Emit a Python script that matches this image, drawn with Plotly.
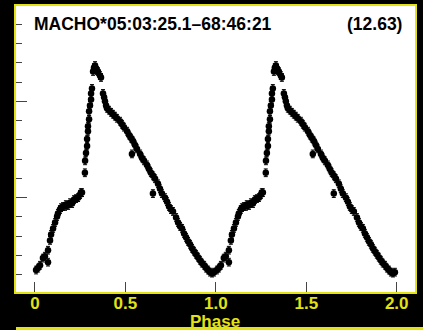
import plotly.graph_objects as go

# Phase-folded light curve of MACHO*05:03:25.1-68:46:21 (period 12.63 d)
phase = [0.006, 0.017, 0.028, 0.044, 0.055, 0.072, 0.083, 0.089, 0.100, 0.111,
         0.122, 0.127, 0.138, 0.144, 0.155, 0.166, 0.171, 0.183, 0.194, 0.205,
         0.216, 0.227, 0.238, 0.249, 0.254, 0.260,
         0.277, 0.282, 0.288, 0.288, 0.293, 0.293, 0.299, 0.299, 0.304, 0.310,
         0.310, 0.315, 0.321, 0.326, 0.332, 0.337, 0.343, 0.348, 0.359, 0.365,
         0.376, 0.382, 0.387, 0.393, 0.398, 0.409, 0.420, 0.431, 0.442, 0.453,
         0.470, 0.481, 0.492, 0.509, 0.520, 0.531, 0.542, 0.553, 0.564, 0.581,
         0.592, 0.603, 0.619, 0.630, 0.641, 0.653, 0.664, 0.680, 0.691, 0.702,
         0.719, 0.730, 0.741, 0.752, 0.763, 0.780, 0.791, 0.802, 0.813, 0.824,
         0.835, 0.846, 0.857, 0.868, 0.879, 0.890, 0.901, 0.912, 0.923, 0.935,
         0.946, 0.957, 0.968, 0.979, 0.990,
         0.072, 0.276, 0.536, 0.652]
mag = [15.876, 15.866, 15.851, 15.814, 15.804, 15.773, 15.722, 15.691, 15.660, 15.629,
       15.598, 15.582, 15.562, 15.552, 15.546, 15.546, 15.536, 15.541, 15.526, 15.531,
       15.510, 15.505, 15.500, 15.485, 15.474, 15.474,
       15.309, 15.268, 15.232, 15.196, 15.155, 15.129, 15.093, 15.052, 15.021, 14.990,
       14.959, 14.933, 14.845, 14.825, 14.814, 14.830, 14.840, 14.845, 14.866, 14.876,
       14.959, 14.979, 15.000, 15.021, 15.036, 15.046, 15.057, 15.067, 15.077, 15.088,
       15.103, 15.119, 15.134, 15.155, 15.175, 15.191, 15.206, 15.227, 15.247, 15.273,
       15.294, 15.309, 15.330, 15.351, 15.371, 15.387, 15.402, 15.428, 15.454, 15.479,
       15.500, 15.521, 15.546, 15.562, 15.572, 15.603, 15.629, 15.649, 15.660, 15.686,
       15.706, 15.727, 15.742, 15.763, 15.778, 15.794, 15.809, 15.825, 15.840, 15.851,
       15.866, 15.876, 15.887, 15.892, 15.887,
       15.835, 15.371, 15.273, 15.479]
MAG_ERR = 0.02

star_name = "MACHO*05:03:25.1–68:46:21"
period_label = "(12.63)"
x_tick_vals = [0, 0.5, 1.0, 1.5, 2.0]
x_tick_text = ["0", "0.5", "1.0", "1.5", "2.0"]

YELLOW = "#e2e214"
FONT = "Liberation Sans, Arial, sans-serif"

x_all = phase + [p + 1 for p in phase]
y_all = mag + mag
err_all = [MAG_ERR] * len(x_all)

fig = go.Figure()
fig.add_trace(go.Scatter(
    x=x_all, y=y_all, mode="markers",
    marker=dict(color="black", size=6.5),
    error_y=dict(type="data", array=err_all, color="black", thickness=1, width=2),
    showlegend=False, hoverinfo="skip",
))

fig.update_layout(
    width=423, height=330,
    margin=dict(l=16, r=8, t=4, b=38),
    paper_bgcolor="black", plot_bgcolor="white",
    font=dict(family=FONT),
    xaxis=dict(
        range=[-0.105, 2.101], showgrid=False, zeroline=False,
        tickmode="array", tickvals=x_tick_vals, ticktext=x_tick_text,
        ticks="inside", ticklen=10, tickwidth=1, tickcolor="#444",
        ticklabelstandoff=-5,
        showline=True, linecolor=YELLOW, linewidth=2, mirror=True,
        tickfont=dict(color=YELLOW, size=17, weight="bold", family=FONT),
    ),
    yaxis=dict(
        range=[15.990, 14.505], showgrid=False, zeroline=False,
        tick0=15.0, dtick=0.5, ticks="inside", ticklen=11, tickwidth=1,
        tickcolor="#444", showticklabels=False,
        minor=dict(dtick=0.1, ticks="inside", ticklen=6, tickwidth=1, tickcolor="#444", showgrid=False),
        showline=True, linecolor=YELLOW, linewidth=2, mirror=True,
    ),
    annotations=[
        dict(text=star_name, xref="paper", yref="paper", x=0.040, y=0.9375,
             xanchor="left", yanchor="middle", showarrow=False,
             font=dict(color="black", size=17.5, weight="bold", family=FONT)),
        dict(text=period_label, xref="paper", yref="paper", x=0.972, y=0.9375,
             xanchor="right", yanchor="middle", showarrow=False,
             font=dict(color="black", size=17.5, weight="bold", family=FONT)),
        dict(text="Phase", xref="paper", yref="paper", x=0.4987, y=-0.064,
             xanchor="center", yanchor="top", showarrow=False,
             font=dict(color=YELLOW, size=17, weight="bold", family=FONT)),
        dict(text=" ", xref="paper", yref="paper", x=0.0, y=-0.1215,
             xanchor="left", yanchor="top", showarrow=False, width=407, height=3,
             bgcolor=YELLOW, borderpad=0, borderwidth=0, font=dict(size=1)),
    ],
)

fig.write_html("out.html")
